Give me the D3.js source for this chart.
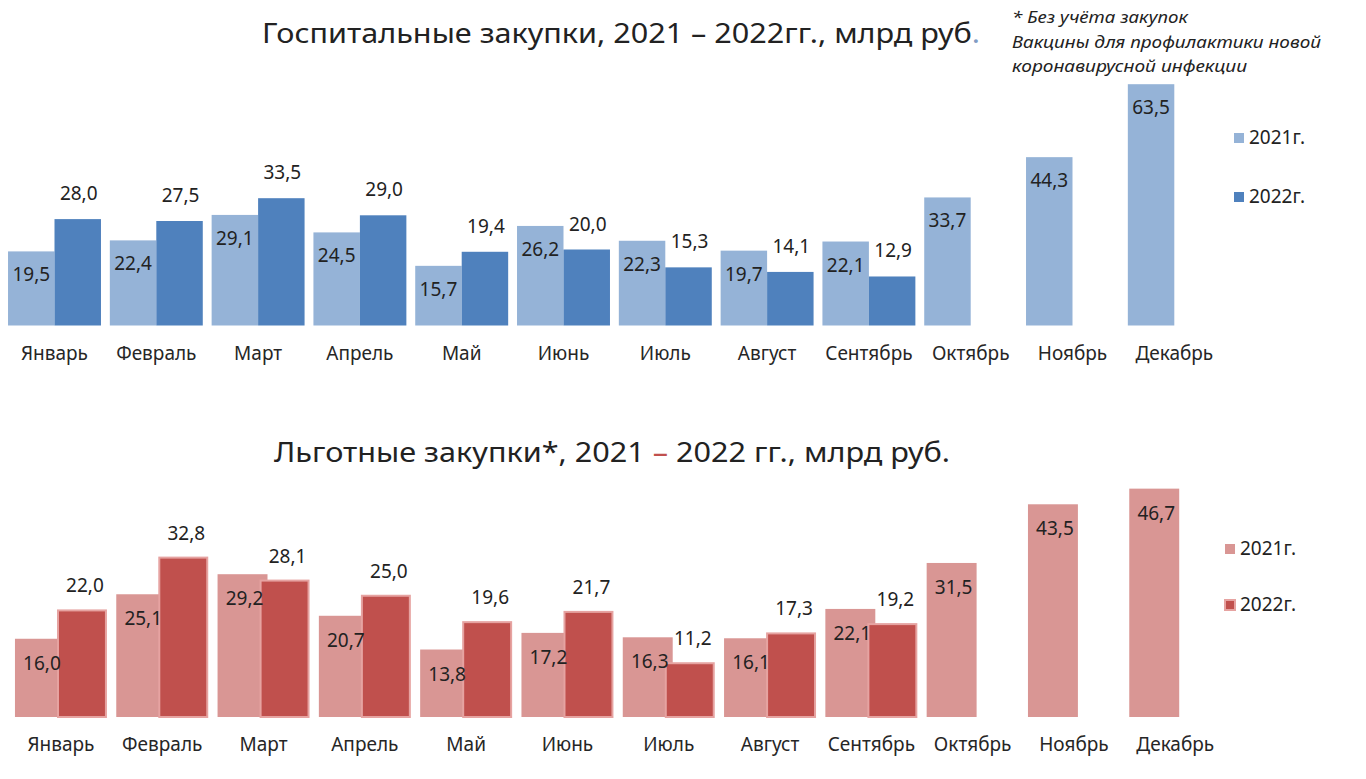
<!DOCTYPE html>
<html>
<head>
<meta charset="utf-8">
<script src="https://cdn.jsdelivr.net/npm/d3@7"></script>
<style>
  body { margin: 0; background: #fff; }
  svg text { font-family: "Noto Sans", "Open Sans", sans-serif; fill: #222; }
</style>
</head>
<body>
<div id="chart"></div>
<script>
// Data
const months = ["Январь", "Февраль", "Март", "Апрель", "Май", "Июнь", "Июль",
                "Август", "Сентябрь", "Октябрь", "Ноябрь", "Декабрь"];
const hosp2021 = [19.5, 22.4, 29.1, 24.5, 15.7, 26.2, 22.3, 19.7, 22.1, 33.7, 44.3, 63.5];
const hosp2022 = [28.0, 27.5, 33.5, 29.0, 19.4, 20.0, 15.3, 14.1, 12.9, null, null, null];
const pref2021 = [16.0, 25.1, 29.2, 20.7, 13.8, 17.2, 16.3, 16.1, 22.1, 31.5, 43.5, 46.7];
const pref2022 = [22.0, 32.8, 28.1, 25.0, 19.6, 21.7, 11.2, 17.3, 19.2, null, null, null];
const seriesNames = ["2021г.", "2022г."];

const width = 1366;
const height = 779;

const svg = d3.select("#chart").append("svg")
    .attr("width", width)
    .attr("height", height);

const fmt = v => d3.format(".1f")(v).replace(".", ",");

// Titles
svg.append("text")
    .attr("x", 262).attr("y", 43)
    .attr("textLength", 718).attr("lengthAdjust", "spacingAndGlyphs")
    .style("font-size", "28px")
    .html('Госпитальные закупки, 2021 – 2022гг., млрд руб<tspan style="fill:#7f9cc4">.</tspan>');

svg.append("text")
    .attr("x", 274).attr("y", 462)
    .attr("textLength", 676).attr("lengthAdjust", "spacingAndGlyphs")
    .style("font-size", "28px")
    .html('Льготные закупки*, 2021 <tspan style="fill:#c0504d">–</tspan> 2022 гг., млрд руб.');

// Footnote
const note = [
  {t: "* Без учёта закупок", w: 176},
  {t: "Вакцины для профилактики новой", w: 309},
  {t: "коронавирусной инфекции", w: 235}
];
note.forEach((n, i) => {
  svg.append("text")
      .attr("x", 1012).attr("y", 23 + i * 24.5)
      .attr("textLength", n.w).attr("lengthAdjust", "spacingAndGlyphs")
      .style("font-size", "17px")
      .style("font-style", "italic")
      .text(n.t);
});

// Draws one panel of grouped bars
function drawPanel(opt) {
  const g = svg.append("g");

  const x = d3.scaleBand()
      .domain(months)
      .range(opt.xRange)
      .paddingInner(opt.padInner)
      .paddingOuter(opt.padInner / 2);

  const y = d3.scaleLinear()
      .domain([0, 70])
      .range([opt.base, opt.base - 70 * opt.pxPerUnit]);

  const bw = x.bandwidth() * opt.barFrac;
  const off2022 = x.bandwidth() - bw;

  const rows = months.map((m, i) => ({m: m, a: opt.s2021[i], b: opt.s2022[i]}));

  // 2021 bars
  g.selectAll(".b2021").data(rows).enter().append("rect")
      .attr("x", d => x(d.m))
      .attr("y", d => y(d.a))
      .attr("width", bw)
      .attr("height", d => y(0) - y(d.a))
      .attr("fill", opt.c2021);

  // 2022 bars
  g.selectAll(".b2022").data(rows.filter(d => d.b != null)).enter().append("rect")
      .attr("x", d => x(d.m) + off2022 + opt.stroke / 2)
      .attr("y", d => y(d.b) + opt.stroke / 2)
      .attr("width", bw - opt.stroke)
      .attr("height", d => y(0) - y(d.b) - opt.stroke / 2)
      .attr("fill", opt.c2022)
      .attr("stroke", opt.stroke ? opt.strokeColor : "none")
      .attr("stroke-width", opt.stroke);

  // labels
  g.selectAll(".l2021").data(rows).enter().append("text")
      .attr("x", d => x(d.m) + bw / 2 + opt.inDx)
      .attr("y", d => y(d.a) + opt.inOff)
      .attr("text-anchor", "middle")
      .attr("dominant-baseline", "central")
      .style("font-size", "19px")
      .text(d => fmt(d.a));

  g.selectAll(".l2022").data(rows.filter(d => d.b != null)).enter().append("text")
      .attr("x", d => x(d.m) + off2022 + bw / 2 + opt.outDx)
      .attr("y", d => y(d.b) - opt.outOff)
      .attr("text-anchor", "middle")
      .attr("dominant-baseline", "central")
      .style("font-size", "19px")
      .text(d => fmt(d.b));

  // month axis labels
  g.selectAll(".m").data(months).enter().append("text")
      .attr("x", d => x(d) + x.bandwidth() / 2)
      .attr("y", opt.base + 27)
      .attr("text-anchor", "middle")
      .attr("dominant-baseline", "central")
      .style("font-size", "19px")
      .style("fill", "#262626")
      .text(d => d);

  // legend
  const cols = [opt.c2021, opt.c2022];
  seriesNames.forEach((s, i) => {
    const ly = opt.legendY[i];
    g.append("rect")
        .attr("x", opt.legendX + 1).attr("y", ly - 5 + 1)
        .attr("width", 10).attr("height", 10)
        .attr("fill", cols[i])
        .attr("stroke", i === 1 && opt.stroke ? opt.strokeColor : "none")
        .attr("stroke-width", opt.stroke);
    g.append("text")
        .attr("x", opt.legendX + 16).attr("y", ly)
        .attr("dominant-baseline", "central")
        .style("font-size", "19px")
        .text(s);
  });
}

drawPanel({
  s2021: hosp2021, s2022: hosp2022,
  xRange: [3.6, 3.6 + 12 * 101.8], padInner: 0.087, barFrac: 0.5,
  base: 325.5, pxPerUnit: 3.8,
  c2021: "#95b3d7", c2022: "#4f81bd", stroke: 0, strokeColor: "none",
  inOff: 23, outOff: 26, inDx: 0, outDx: 1,
  legendX: 1233, legendY: [137, 196]
});

drawPanel({
  s2021: pref2021, s2022: pref2022,
  xRange: [10.3, 10.3 + 12 * 101.3], padInner: 0.092, barFrac: 0.543,
  base: 717, pxPerUnit: 4.89,
  c2021: "#d99694", c2022: "#c0504d", stroke: 2, strokeColor: "#e6a3a1",
  inOff: 24, outOff: 24, inDx: 2, outDx: 3,
  legendX: 1224, legendY: [548, 604]
});
</script>
</body>
</html>
